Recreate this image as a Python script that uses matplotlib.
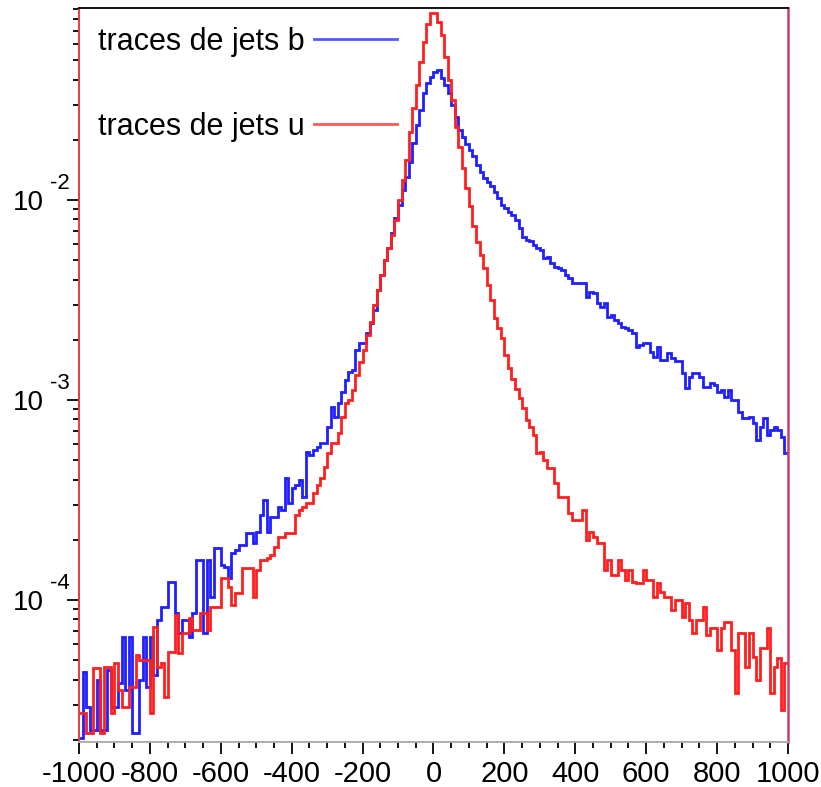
import numpy as np
import matplotlib
matplotlib.use("Agg")
import matplotlib.pyplot as plt
from matplotlib.ticker import FixedLocator, MultipleLocator, LogLocator, NullFormatter

plt.rcParams['font.family'] = ['Liberation Sans', 'DejaVu Sans']

# histogram binning: 200 bins of width 10 between -1000 and 1000
bin_lo = -1000
bin_hi = 1000
bin_w = 10

# log10 of the normalised counts, read bin by bin off the picture
log_b = [
    -4.69, -4.36, -4.535, -4.65, -4.65, -4.40, -4.65, -4.65, -4.35, -4.535,
    -4.535, -4.415, -4.185, -4.45, -4.185, -4.665, -4.665, -4.40, -4.185, -4.435,
    -4.185, -4.375, -4.10, -4.035, -4.035, -3.91, -3.91, -4.065, -4.165, -4.10,
    -4.10, -4.185, -4.065, -3.80, -3.80, -4.165, -3.80, -3.985, -3.74, -3.74,
    -3.825, -3.835, -3.89, -3.765, -3.75, -3.725, -3.725, -3.665, -3.665, -3.715,
    -3.66, -3.575, -3.50, -3.66, -3.585, -3.585, -3.535, -3.55, -3.39, -3.515,
    -3.44, -3.425, -3.40, -3.485, -3.26, -3.275, -3.25, -3.235, -3.215, -3.215,
    -3.135, -3.035, -3.085, -3.015, -2.96, -2.90, -2.86, -2.85, -2.75, -2.715,
    -2.715, -2.665, -2.615, -2.55, -2.45, -2.375, -2.30, -2.24, -2.165, -2.09,
    -2.025, -1.95, -1.885, -1.81, -1.715, -1.625, -1.55, -1.465, -1.415, -1.385,
    -1.36, -1.35, -1.39, -1.425, -1.465, -1.525, -1.585, -1.65, -1.685, -1.72,
    -1.75, -1.78, -1.825, -1.86, -1.89, -1.91, -1.93, -1.96, -1.99, -2.025,
    -2.04, -2.06, -2.075, -2.10, -2.14, -2.185, -2.20, -2.205, -2.225, -2.24,
    -2.25, -2.29, -2.285, -2.315, -2.335, -2.34, -2.35, -2.375, -2.39, -2.415,
    -2.415, -2.415, -2.415, -2.485, -2.46, -2.465, -2.515, -2.535, -2.515, -2.585,
    -2.575, -2.60, -2.615, -2.635, -2.64, -2.65, -2.665, -2.735, -2.725, -2.715,
    -2.715, -2.76, -2.785, -2.735, -2.80, -2.80, -2.765, -2.79, -2.805, -2.805,
    -2.865, -2.94, -2.885, -2.865, -2.865, -2.885, -2.935, -2.935, -2.915, -2.925,
    -2.96, -2.95, -2.985, -2.95, -3.00, -3.00, -3.06, -3.09, -3.09, -3.085,
    -3.115, -3.20, -3.135, -3.09, -3.175, -3.15, -3.135, -3.15, -3.185, -3.265,
]

log_u = [
    -4.565, -4.565, -4.665, -4.665, -4.34, -4.34, -4.665, -4.335, -4.335, -4.565,
    -4.315, -4.45, -4.535, -4.535, -4.435, -4.435, -4.275, -4.30, -4.30, -4.30,
    -4.565, -4.135, -4.335, -4.315, -4.485, -4.26, -4.26, -4.075, -4.265, -4.165,
    -4.165, -4.09, -4.15, -4.15, -4.065, -4.065, -4.15, -4.035, -4.035, -4.035,
    -3.89, -3.89, -3.935, -4.025, -3.965, -3.965, -3.84, -3.84, -3.84, -3.985,
    -3.85, -3.80, -3.80, -3.79, -3.775, -3.735, -3.685, -3.685, -3.665, -3.665,
    -3.665, -3.575, -3.55, -3.535, -3.515, -3.515, -3.465, -3.425, -3.39, -3.335,
    -3.265, -3.215, -3.215, -3.165, -3.085, -3.015, -3.00, -2.95, -2.875, -2.81,
    -2.75, -2.675, -2.61, -2.525, -2.45, -2.375, -2.30, -2.24, -2.175, -2.10,
    -2.00, -1.90, -1.80, -1.66, -1.54, -1.425, -1.31, -1.21, -1.12, -1.065,
    -1.065, -1.11, -1.175, -1.285, -1.40, -1.50, -1.635, -1.735, -1.84, -1.94,
    -2.03, -2.13, -2.21, -2.275, -2.34, -2.425, -2.50, -2.59, -2.64, -2.69,
    -2.775, -2.84, -2.895, -2.945, -2.99, -3.04, -3.10, -3.135, -3.175, -3.265,
    -3.26, -3.30, -3.34, -3.34, -3.415, -3.485, -3.485, -3.485, -3.565, -3.60,
    -3.60, -3.60, -3.55, -3.70, -3.66, -3.685, -3.715, -3.715, -3.85, -3.80,
    -3.875, -3.875, -3.80, -3.85, -3.90, -3.85, -3.91, -3.915, -3.915, -3.85,
    -3.90, -3.90, -3.985, -3.915, -3.96, -3.985, -3.985, -4.05, -4.00, -4.00,
    -4.085, -4.015, -4.10, -4.165, -4.10, -4.10, -4.035, -4.175, -4.14, -4.14,
    -4.25, -4.14, -4.11, -4.11, -4.25, -4.465, -4.165, -4.165, -4.335, -4.165,
    -4.285, -4.40, -4.24, -4.24, -4.14, -4.465, -4.335, -4.29, -4.55, -4.315,
]

labels = ['traces de jets b', 'traces de jets u']
x_ticks = [-1000, -800, -600, -400, -200, 0, 200, 400, 600, 800, 1000]
x_ticklabels = ['-1000', '-800', '-600', '-400', '-200', '0', '200', '400', '600', '800', '1000']
decades = [-4, -3, -2]

edges = np.arange(bin_lo, bin_hi + bin_w, bin_w)
vals_b = 10.0 ** np.array(log_b)
vals_u = 10.0 ** np.array(log_u)

fig = plt.figure(figsize=(8.21, 7.87), dpi=100)
ax = fig.add_axes([0.0962, 0.0576, 0.8636, 0.9319])

hb = ax.stairs(vals_b, edges, baseline=None, color='#1f1fff', lw=2.0, label=labels[0])
hu = ax.stairs(vals_u, edges, baseline=None, color='#ff1f1f', lw=2.0, label=labels[1])

ax.set_yscale('log')
ax.set_xlim(-1000, 1000)
ax.set_ylim(1.956e-5, 0.0909)

# ticks
ax.xaxis.set_major_locator(FixedLocator(x_ticks))
ax.set_xticklabels(x_ticklabels)
ax.xaxis.set_minor_locator(MultipleLocator(50))
ax.yaxis.set_major_locator(FixedLocator([10.0 ** e for e in decades]))
ax.set_yticklabels(['10'] * len(decades))
ax.yaxis.set_minor_locator(LogLocator(base=10, subs=np.arange(2, 10)))
ax.yaxis.set_minor_formatter(NullFormatter())

ax.tick_params(axis='both', which='major', direction='out', length=8.6, width=1.3,
               labelsize=20, color='black')
ax.tick_params(axis='x', which='major', labelsize=21, pad=4.5)
ax.tick_params(axis='both', which='minor', direction='out', length=4.6, width=1.3,
               color='black')
ax.tick_params(axis='y', which='major', pad=17)
ax.tick_params(top=False, right=False)

for e in decades:
    ax.annotate(str(e), xy=(0, 10.0 ** e), xycoords=('axes fraction', 'data'),
                xytext=(-21, 8), textcoords='offset points',
                ha='left', va='baseline', fontsize=16)

ax.spines['left'].set_color('#e83c3c')
ax.spines['left'].set_linewidth(1.4)
ax.spines['right'].set_color('#c8406c')
ax.spines['right'].set_linewidth(1.8)
ax.spines['top'].set_color('black')
ax.spines['top'].set_linewidth(1.3)
ax.spines['bottom'].set_color('#a8a8a8')
ax.spines['bottom'].set_linewidth(1.3)

leg = ax.legend(handles=[hb, hu], loc='upper left', bbox_to_anchor=(0.027, 0.975),
                frameon=False, markerfirst=False, fontsize=22, handlelength=2.7,
                handletextpad=0.3, labelspacing=1.8, borderpad=0, borderaxespad=0)
for line in leg.get_lines():
    line.set_alpha(0.75)

fig.savefig('out.png', dpi=100)
